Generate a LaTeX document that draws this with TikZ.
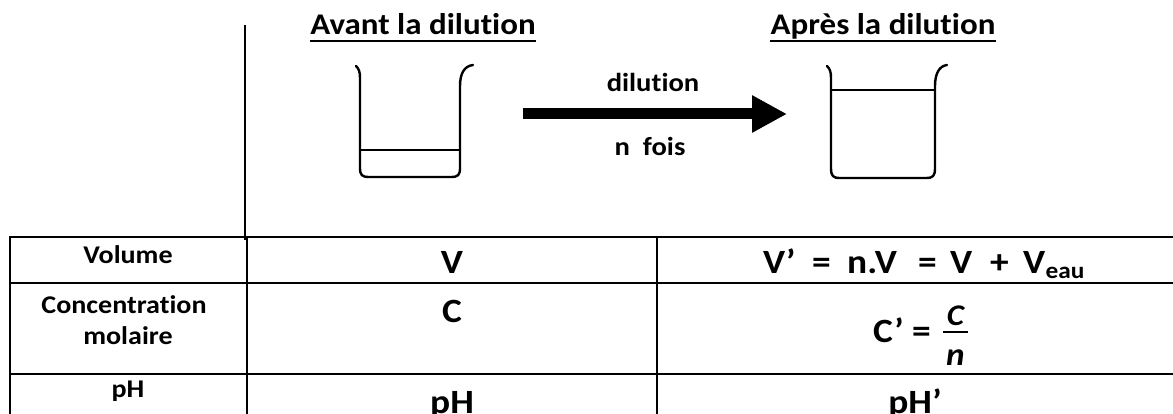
\documentclass[tikz,border=0pt]{standalone}
\usepackage{fontspec}
\setmainfont{Carlito}[FakeStretch=1.1, RawFeature={-liga}]
\usetikzlibrary{arrows.meta}
\begin{document}
\begin{tikzpicture}[x=1pt,y=-1pt,
  lbl/.style={font=\fontsize{25.5}{28}\selectfont\bfseries, anchor=base, inner sep=0pt},
  big/.style={font=\fontsize{34}{40}\selectfont\bfseries, anchor=base, inner sep=0pt},
  bigw/.style={big, anchor=base west},
  ttl/.style={font=\fontsize{30}{36}\selectfont\bfseries, anchor=base, inner sep=0pt},
  arrlbl/.style={font=\fontsize{26}{30}\selectfont\bfseries, anchor=base, inner sep=0pt},
  rule/.style={line width=2.4pt},
  beaker/.style={line width=2.4pt, line cap=round, line join=round},
]
\useasboundingbox (0,0) rectangle (1173,414);

% separator above table
\draw[line width=2pt] (245,25) -- (245,240);

% titles
\node[ttl] (avant) at (423,35) {Avant la dilution};
\node[ttl] (apres) at (883,35) {Après la dilution};
\draw[line width=2pt] ([yshift=-6pt]avant.base west) -- ([yshift=-6pt]avant.base east);
\draw[line width=2pt] ([yshift=-6pt]apres.base west) -- ([yshift=-6pt]apres.base east);

% left beaker
\draw[beaker] (356,66) .. controls (359,69) and (360,72) .. (360,78) -- (360,168)
  .. controls (360,175) and (362,177) .. (369,177) -- (451,177)
  .. controls (458,177) and (460,175) .. (460,168) -- (460,86)
  .. controls (460,74) and (464,66) .. (473,65);
\draw[line width=2pt] (360,150) -- (460,150);

% right beaker
\draw[beaker] (827,66) .. controls (830,69) and (831,72) .. (831,78) -- (831,168)
  .. controls (831,176) and (833,178) .. (840,178) -- (926,178)
  .. controls (933,178) and (935,176) .. (935,168) -- (935,86)
  .. controls (935,74) and (939,66) .. (947,65);
\draw[line width=2pt] (831,90) -- (935,90);

% arrow
\coordinate (as) at (523,114);
\coordinate (ae) at (787,114);
\draw[line width=11pt, -{Triangle[length=35pt,width=35pt]}] (as) -- (ae);
\node[arrlbl] (dil) at (653,92) {dilution};
\node[arrlbl] (nfois) at (650,156) {n\ \ fois};

% table
\draw[rule] (10,237) -- (1173,237);
\draw[rule] (10,283) -- (1173,283);
\draw[rule] (10,374) -- (1173,374);
\draw[rule] (10,236) -- (10,414);
\draw[rule] (247,236) -- (247,414);
\draw[rule] (657,236) -- (657,414);

\node[lbl] (volume) at (128,264) {Volume};
\node[lbl] (conc) at (124,313) {Concentration};
\node[lbl] (mol) at (128,344) {molaire};
\node[lbl] (phl) at (128,397) {pH};

\node[big] (v) at (452,273) {V};
\node[big] (c) at (452,322) {C};
\node[big] (ph) at (452,413) {pH};

\node[bigw] (v1) at (763,273) {V’};
\node[bigw] (v2) at (812,273) {=};
\node[bigw] (v3) at (847,273) {n.V};
\node[bigw] (v4) at (918,273) {=};
\node[bigw] (v5) at (950,273) {V};
\node[bigw] (v6) at (990,273) {+};
\node[bigw] (v7) at (1023,273) {V};
\node[anchor=base west, inner sep=0pt, font=\fontsize{23}{26}\selectfont\bfseries] (eau) at (v7.base east) [yshift=-6pt] {eau};

\node[bigw] (cp) at (873,342) {C’ =};
\node[anchor=base, inner sep=0pt, font=\fontsize{30}{34}\selectfont\bfseries\itshape] (cn) at (955.5,325) {C};
\node[anchor=base, inner sep=0pt, font=\fontsize{32}{34}\selectfont\bfseries\itshape] (nd) at (955.5,365) {n};
\draw[line width=1.6pt] (943,332) -- (968,332);

\node[big] (php) at (915,413) {pH’};
\end{tikzpicture}
\end{document}
